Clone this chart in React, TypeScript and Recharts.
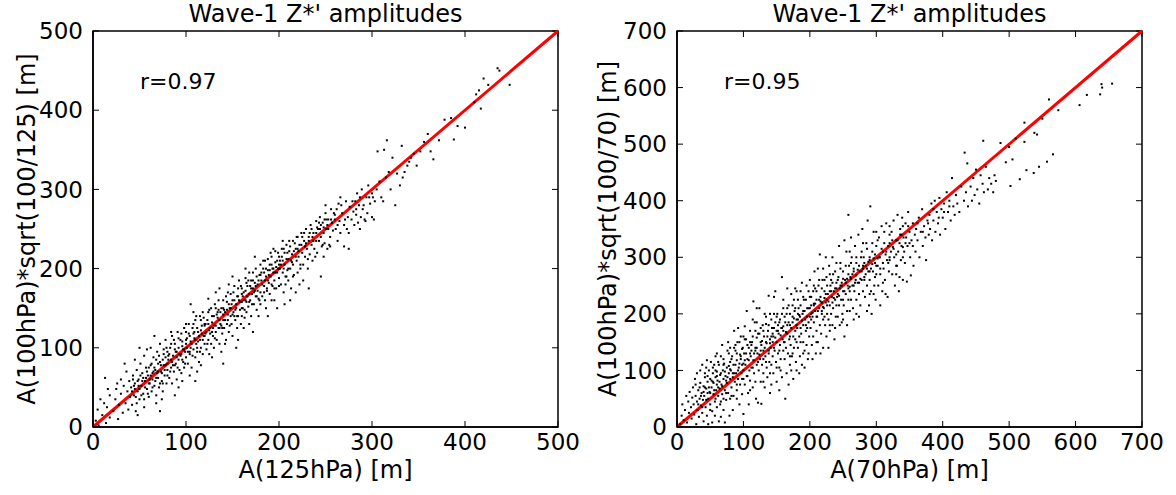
import { ReferenceArea, ReferenceLine, Scatter, ScatterChart, XAxis, YAxis } from "recharts";

const FONT = "'DejaVu Sans', sans-serif";

// left panel: A(125hPa) vs A(100hPa)*sqrt(100/125)
const LEFT_POINTS: [number, number][] = [
  [3, 8], [5, 22], [8, 35], [10, 15], [12, 30], [14, 5], [15, 25], [18, 12], [18, 40], [6, 2], [16, 48], [13, 62],
  [22, 20], [24, 35], [25, 48], [27, 10], [28, 28], [30, 42], [30, 60], [32, 18], [33, 52], [35, 30], [36, 70], [37, 45], [38, 22], [39, 58], [40, 38], [34, 80], [26, 55],
  [41, 50], [42, 28], [43, 65], [44, 40], [45, 55], [46, 20], [47, 72], [48, 45], [49, 60], [50, 35], [51, 80], [52, 52], [53, 68], [54, 42], [55, 90], [55, 25], [56, 58], [57, 75], [58, 48], [59, 65], [60, 38], [45, 85], [50, 100], [58, 98], [48, 15],
  [61, 55], [62, 78], [63, 45], [64, 68], [65, 88], [66, 52], [67, 72], [68, 40], [69, 95], [70, 62], [70, 80], [71, 50], [72, 105], [73, 70], [74, 58], [75, 85], [75, 45], [76, 92], [77, 65], [78, 78], [78, 110], [79, 55], [80, 72], [80, 95], [62, 100], [68, 30], [74, 35], [66, 115], [72, 20],
  [81, 85], [82, 62], [83, 100], [84, 75], [85, 115], [85, 55], [86, 90], [87, 70], [88, 105], [89, 80], [90, 95], [90, 60], [91, 120], [92, 85], [93, 72], [94, 110], [95, 92], [95, 68], [96, 102], [97, 82], [98, 125], [98, 75], [99, 95], [100, 88], [100, 110], [84, 120], [92, 50], [96, 58], [88, 40], [100, 130],
  [101, 100], [102, 80], [103, 118], [104, 92], [105, 108], [105, 155], [106, 75], [107, 125], [108, 98], [109, 112], [110, 88], [110, 135], [111, 105], [112, 95], [113, 120], [114, 82], [115, 110], [115, 140], [116, 100], [117, 128], [118, 92], [119, 115], [120, 105], [120, 130], [104, 65], [112, 70], [118, 145], [110, 58], [108, 145], [116, 78],
  [121, 118], [122, 98], [123, 135], [124, 110], [125, 148], [125, 92], [126, 125], [127, 105], [128, 140], [129, 115], [130, 128], [130, 100], [131, 155], [132, 120], [133, 110], [134, 138], [135, 125], [135, 160], [136, 105], [137, 145], [138, 128], [139, 118], [140, 135], [140, 80], [124, 162], [132, 170], [128, 88], [138, 95], [136, 175], [140, 150],
  [141, 125], [142, 145], [143, 110], [144, 158], [145, 135], [145, 170], [146, 120], [147, 150], [148, 140], [149, 130], [150, 160], [150, 115], [151, 145], [152, 178], [153, 135], [154, 150], [155, 125], [155, 165], [156, 140], [157, 185], [158, 148], [159, 130], [160, 158], [160, 175], [142, 105], [150, 190], [156, 110], [146, 180], [154, 100], [160, 140],
  [161, 150], [162, 170], [163, 138], [164, 160], [165, 182], [165, 145], [166, 165], [167, 152], [168, 195], [169, 160], [170, 175], [170, 140], [171, 168], [172, 185], [173, 155], [174, 172], [175, 165], [175, 200], [176, 148], [177, 180], [178, 162], [179, 192], [180, 170], [180, 155], [162, 125], [168, 130], [174, 215], [178, 140], [164, 200], [172, 120],
  [181, 185], [182, 165], [183, 200], [184, 178], [185, 160], [185, 210], [186, 190], [187, 172], [188, 198], [189, 182], [190, 205], [190, 168], [191, 190], [192, 215], [193, 178], [194, 195], [195, 185], [195, 160], [196, 208], [197, 175], [198, 195], [199, 220], [200, 188], [200, 205], [186, 150], [194, 225], [198, 150], [188, 140], [192, 160],
  [201, 200], [202, 180], [203, 215], [204, 195], [205, 225], [205, 170], [206, 205], [207, 190], [208, 230], [209, 198], [210, 212], [210, 185], [211, 222], [212, 200], [213, 175], [214, 218], [215, 205], [215, 235], [216, 192], [218, 225], [219, 210], [220, 195], [220, 240], [206, 155], [212, 160], [218, 170], [222, 180],
  [221, 215], [222, 230], [223, 200], [224, 245], [225, 220], [226, 205], [227, 235], [228, 215], [229, 250], [230, 225], [231, 200], [232, 240], [233, 218], [234, 255], [235, 230], [236, 210], [237, 245], [238, 225], [240, 235], [240, 260], [226, 185], [232, 175],
  [241, 220], [242, 250], [243, 235], [244, 265], [245, 190], [245, 240], [246, 228], [247, 258], [248, 245], [249, 232], [250, 270], [251, 250], [252, 225], [253, 262], [255, 240], [256, 275], [258, 248], [260, 262], [248, 215], [254, 230], [250, 280],
  [261, 250], [262, 275], [263, 235], [264, 282], [265, 260], [266, 245], [268, 270], [270, 255], [270, 228], [272, 285], [274, 265], [275, 225], [276, 278], [278, 262], [280, 272], [266, 290], [273, 250],
  [281, 255], [282, 285], [283, 268], [284, 295], [285, 258], [286, 280], [288, 265], [289, 300], [290, 275], [292, 262], [294, 290], [295, 270], [296, 305], [298, 282], [300, 265], [300, 295], [287, 250], [293, 260],
  [302, 262], [303, 285], [305, 300], [306, 348], [308, 310], [310, 290], [312, 285], [313, 350], [315, 315], [318, 322], [320, 300], [322, 340], [325, 280], [327, 320], [330, 305], [332, 355], [333, 315], [335, 322], [338, 330], [340, 335], [316, 362], [301, 290],
  [342, 340], [345, 345], [348, 330], [352, 348], [356, 360], [360, 370], [363, 348], [366, 338], [372, 362], [378, 388], [385, 390], [388, 363], [392, 380], [400, 378], [410, 410], [412, 420], [415, 425], [417, 402], [420, 440], [425, 432], [435, 453], [437, 450], [448, 432],
];

// the dense core of the left cloud, close to the 1:1 line
const LEFT_CORE: [number, number][] = [
  [42, 45], [44, 52], [46, 38], [48, 58], [50, 48], [52, 40], [54, 62], [56, 50], [58, 70], [60, 55], [62, 65], [64, 50], [66, 75], [68, 62], [70, 70], [72, 82], [74, 68], [76, 78], [78, 88], [80, 80],
  [82, 92], [84, 85], [86, 78], [88, 98], [90, 88], [92, 100], [94, 90], [96, 108], [98, 98], [100, 105], [102, 95], [104, 115], [106, 105], [108, 118], [110, 110], [112, 125], [114, 115], [116, 122], [118, 110], [120, 128],
  [122, 120], [124, 130], [126, 118], [128, 132], [130, 140], [132, 128], [134, 145], [136, 135], [138, 150], [140, 142], [142, 135], [144, 148], [146, 155], [148, 150], [150, 142], [152, 160], [154, 155], [156, 165], [158, 158], [160, 168],
  [162, 160], [164, 172], [166, 178], [168, 168], [170, 185], [172, 175], [174, 182], [176, 190], [178, 185], [180, 192], [182, 180], [184, 195], [186, 200], [188, 185], [190, 198], [192, 205], [194, 200], [196, 195], [198, 210], [200, 215],
  [202, 205], [204, 210], [206, 220], [208, 212], [210, 200], [212, 228], [214, 208], [216, 222], [218, 215], [220, 225], [224, 230], [228, 228], [232, 235], [236, 240], [240, 245], [244, 250], [248, 252], [252, 255], [256, 262], [260, 268],
  [43, 60], [47, 30], [51, 65], [55, 35], [59, 42], [63, 80], [67, 58], [71, 90], [75, 55], [79, 100], [83, 70], [87, 110], [91, 75], [95, 118], [99, 80], [103, 130], [107, 90], [111, 140], [115, 95], [119, 138],
  [123, 105], [127, 150], [131, 112], [135, 148], [139, 125], [143, 165], [147, 128], [151, 170], [155, 140], [159, 178], [163, 148], [167, 185], [171, 155], [175, 178], [179, 160], [183, 210], [187, 175], [191, 220], [195, 175], [199, 200],
  [203, 225], [207, 180], [211, 235], [215, 190], [219, 240], [223, 205], [227, 245], [231, 212], [235, 250], [239, 215], [243, 258], [247, 230], [251, 262], [255, 228], [259, 270], [263, 255], [267, 280], [271, 262], [275, 245], [279, 285],
  [283, 275], [287, 290], [291, 280], [297, 290],
  [45, 48], [49, 52], [53, 58], [57, 62], [61, 60], [65, 70], [69, 68], [73, 78], [77, 72], [81, 90], [85, 82], [89, 95], [93, 92], [97, 98], [101, 112], [105, 100], [109, 120], [113, 108], [117, 118], [121, 130],
  [125, 122], [129, 125], [133, 142], [137, 130], [141, 148], [145, 142], [149, 155], [153, 148], [157, 160], [161, 165], [165, 158], [169, 178], [173, 170], [177, 172], [181, 195], [185, 185], [189, 192], [193, 200], [197, 202], [201, 210],
  [205, 200], [209, 220], [213, 210], [217, 232], [221, 222], [225, 240], [229, 232], [233, 245], [237, 235], [241, 252], [245, 255], [249, 262], [253, 250], [257, 258],
  [60, 75], [64, 60], [68, 85], [72, 55], [76, 98], [80, 65], [84, 105], [88, 78], [92, 112], [96, 85], [100, 120], [104, 95], [108, 130], [112, 100], [116, 135], [120, 115], [124, 145], [128, 120], [132, 150], [136, 125],
  [140, 160], [144, 130], [148, 168], [152, 140], [156, 175], [160, 150], [164, 188], [168, 158], [172, 195], [176, 165], [180, 205], [184, 170], [188, 212], [192, 180], [196, 222], [200, 178], [204, 235], [208, 190],
];

// right panel: A(70hPa) vs A(100hPa)*sqrt(100/70)
const RIGHT_POINTS: [number, number][] = [
  [5, 5], [7, 20], [8, 40], [10, 12], [12, 30], [14, 55], [15, 8], [17, 45], [18, 25], [19, 62], [20, 0],
  [21, 35], [22, 15], [23, 52], [24, 70], [25, 40], [26, 22], [27, 85], [28, 55], [29, 5], [30, 45], [30, 95], [31, 30], [32, 65], [33, 18], [34, 50], [35, 100], [35, 78], [36, 38], [37, 60], [38, 25], [38, 110], [39, 48], [40, 72], [40, 10], [28, 75],
  [41, 55], [42, 88], [43, 35], [44, 68], [45, 118], [45, 20], [46, 80], [47, 50], [48, 100], [49, 62], [50, 40], [50, 85], [51, 115], [52, 70], [53, 28], [54, 95], [55, 58], [55, 78], [56, 110], [57, 45], [58, 88], [58, 125], [59, 65], [60, 35], [60, 98], [47, 5], [53, 8], [44, 105], [57, 20], [60, 75],
  [61, 82], [62, 55], [63, 110], [64, 68], [65, 92], [65, 40], [66, 125], [67, 75], [68, 58], [69, 100], [70, 85], [70, 30], [71, 112], [72, 65], [73, 90], [74, 48], [75, 105], [75, 78], [76, 135], [77, 60], [78, 95], [79, 20], [80, 85], [80, 115], [63, 10], [68, 145], [72, 8], [77, 150], [66, 18], [80, 50],
  [81, 100], [82, 70], [83, 125], [84, 88], [85, 55], [85, 110], [86, 170], [87, 80], [88, 135], [89, 95], [90, 65], [90, 118], [91, 150], [92, 85], [93, 105], [94, 40], [95, 128], [95, 75], [96, 160], [97, 95], [98, 110], [98, 58], [99, 140], [100, 85], [100, 23], [84, 30], [92, 175], [88, 145], [96, 120], [100, 100],
  [101, 130], [102, 75], [103, 110], [104, 155], [105, 90], [105, 205], [106, 120], [107, 60], [108, 140], [109, 100], [110, 170], [110, 82], [111, 125], [112, 105], [113, 150], [114, 70], [115, 222], [115, 118], [116, 95], [117, 185], [118, 135], [119, 50], [120, 110], [120, 158], [102, 178], [108, 40], [114, 190], [118, 80], [120, 210], [112, 135],
  [121, 130], [122, 43], [123, 100], [124, 165], [125, 120], [126, 80], [127, 145], [127, 41], [128, 110], [129, 180], [130, 95], [130, 135], [131, 160], [132, 70], [133, 125], [134, 195], [135, 105], [135, 148], [136, 88], [137, 170], [138, 130], [139, 115], [140, 155], [140, 60], [124, 210], [132, 200], [138, 232], [126, 150], [134, 115], [140, 95],
  [141, 140], [142, 110], [143, 175], [144, 125], [145, 95], [145, 160], [146, 230], [147, 135], [148, 185], [149, 115], [150, 150], [150, 80], [151, 200], [152, 130], [153, 165], [154, 105], [155, 145], [155, 190], [156, 120], [157, 175], [158, 88], [159, 155], [160, 135], [160, 210], [142, 75], [148, 240], [154, 65], [158, 265], [146, 200], [152, 180], [156, 100], [160, 170], [144, 150],
  [161, 150], [162, 120], [163, 50], [163, 185], [164, 140], [165, 200], [165, 95], [166, 165], [167, 130], [168, 215], [169, 155], [170, 110], [170, 180], [171, 145], [172, 235], [173, 125], [174, 195], [175, 160], [175, 85], [176, 140], [177, 205], [178, 170], [179, 115], [180, 150], [180, 190], [166, 245], [172, 100], [176, 225], [168, 75], [174, 130], [178, 245], [180, 100],
  [181, 175], [182, 140], [183, 210], [184, 160], [185, 125], [185, 195], [186, 240], [187, 165], [188, 110], [189, 200], [190, 150], [190, 180], [191, 225], [192, 135], [193, 190], [194, 170], [195, 250], [195, 145], [196, 210], [197, 120], [198, 185], [199, 160], [200, 230], [200, 195], [184, 95], [188, 255], [192, 105], [198, 130], [196, 175], [182, 190], [186, 150],
  [201, 175], [202, 215], [203, 145], [204, 195], [205, 240], [205, 160], [206, 185], [207, 275], [208, 205], [209, 130], [210, 225], [210, 170], [211, 195], [212, 150], [213, 250], [214, 210], [215, 180], [215, 305], [216, 230], [217, 165], [218, 200], [219, 260], [220, 190], [220, 140], [204, 120], [208, 245], [212, 280], [216, 130], [218, 220], [202, 190], [206, 215],
  [221, 210], [222, 240], [223, 180], [224, 220], [225, 265], [225, 160], [226, 200], [227, 235], [228, 190], [229, 285], [230, 215], [230, 170], [231, 250], [232, 200], [233, 230], [234, 180], [235, 270], [235, 210], [236, 240], [237, 155], [238, 225], [239, 195], [240, 255], [240, 215], [224, 300], [228, 140], [234, 300], [238, 175], [226, 225], [232, 260], [222, 195],
  [241, 230], [242, 195], [243, 265], [244, 215], [245, 245], [245, 180], [246, 290], [247, 225], [248, 255], [249, 200], [250, 240], [250, 275], [251, 215], [252, 160], [253, 260], [254, 235], [255, 310], [256, 205], [257, 250], [258, 225], [259, 285], [260, 240], [260, 205], [244, 320], [252, 330], [258, 375], [248, 185], [256, 180],
  [261, 265], [262, 225], [263, 300], [264, 250], [265, 210], [266, 275], [267, 240], [268, 320], [269, 260], [270, 225], [270, 290], [272, 255], [273, 340], [274, 235], [275, 275], [276, 215], [277, 300], [278, 260], [279, 350], [280, 240], [280, 280], [266, 190], [274, 195], [262, 335],
  [281, 300], [282, 260], [283, 230], [284, 285], [285, 325], [286, 250], [287, 365], [288, 275], [289, 215], [290, 300], [290, 260], [291, 390], [292, 240], [293, 200], [294, 310], [295, 275], [296, 345], [297, 250], [298, 290], [299, 225], [300, 320], [300, 270], [286, 205], [296, 235],
  [302, 285], [303, 250], [304, 335], [305, 300], [306, 270], [308, 355], [309, 240], [310, 310], [311, 280], [312, 325], [313, 260], [315, 360], [316, 295], [317, 230], [318, 320], [319, 275], [320, 340], [320, 295], [306, 215], [314, 235],
  [322, 310], [323, 345], [324, 270], [326, 365], [327, 300], [328, 250], [330, 330], [331, 285], [332, 375], [333, 310], [335, 265], [336, 350], [337, 295], [338, 320], [339, 370], [340, 300], [334, 240], [340, 260],
  [341, 335], [343, 290], [344, 360], [346, 257], [347, 320], [348, 380], [350, 345], [351, 300], [353, 330], [355, 360], [356, 285], [358, 340], [359, 310], [360, 350], [352, 268],
  [362, 330], [364, 370], [365, 300], [367, 345], [369, 385], [370, 320], [372, 355], [374, 335], [375, 295], [377, 365], [379, 340], [380, 375],
  [381, 350], [383, 395], [384, 330], [386, 365], [388, 400], [389, 345], [391, 380], [393, 360], [395, 405], [396, 340], [398, 385], [400, 370],
  [402, 395], [404, 350], [406, 415], [408, 380], [410, 400], [412, 365], [414, 440], [416, 390], [418, 375], [420, 410], [422, 395], [425, 380], [428, 425], [432, 400], [433, 485], [437, 466], [435, 415], [438, 390],
  [442, 425], [444, 400], [446, 440], [448, 410], [450, 455], [452, 420], [455, 395], [457, 445], [460, 430], [461, 506], [462, 415], [465, 460], [468, 420], [470, 440], [473, 430], [476, 415], [478, 445], [480, 435],
  [487, 502], [495, 468], [500, 495], [502, 426], [505, 473], [510, 510], [516, 438], [523, 538], [523, 504], [526, 454], [537, 449], [538, 520], [542, 517], [545, 460], [550, 545], [557, 469], [560, 579], [566, 482], [574, 560], [606, 569], [617, 587], [637, 588], [639, 606], [640, 600], [655, 607],
];

// the dense core of the right cloud
const RIGHT_CORE: [number, number][] = [
  [32, 40], [36, 55], [40, 62], [44, 48], [48, 70], [52, 82], [56, 65], [60, 90], [64, 80], [68, 72], [72, 98], [76, 88], [80, 102], [84, 95], [88, 110], [92, 100], [96, 125], [100, 112], [104, 130], [108, 118],
  [112, 145], [116, 130], [120, 140], [124, 128], [128, 152], [132, 140], [136, 160], [140, 148], [144, 165], [148, 158], [152, 170], [156, 162], [160, 178], [164, 168], [168, 185], [172, 175], [176, 192], [180, 180], [184, 198], [188, 188],
  [192, 205], [196, 195], [200, 210], [204, 202], [208, 218], [212, 205], [216, 222], [220, 212], [224, 235], [228, 222], [232, 240], [236, 228], [240, 245], [244, 232], [248, 250], [252, 240], [256, 262], [260, 248], [264, 270], [268, 255],
  [272, 278], [276, 262], [280, 285], [284, 270], [288, 292], [292, 280], [296, 298], [300, 285], [305, 300], [310, 290], [315, 310], [320, 300], [325, 318], [330, 305], [335, 325], [340, 318], [345, 335], [350, 325],
  [34, 70], [38, 35], [42, 95], [46, 60], [50, 30], [54, 105], [58, 50], [62, 115], [66, 45], [70, 120], [74, 60], [78, 130], [82, 55], [86, 140], [90, 75], [94, 150], [98, 85], [102, 155], [106, 90], [110, 150],
  [114, 105], [118, 170], [122, 115], [126, 175], [130, 120], [134, 182], [138, 135], [142, 190], [146, 140], [150, 195], [154, 135], [158, 200], [162, 150], [166, 210], [170, 160], [174, 215], [178, 155], [182, 225], [186, 175], [190, 230],
  [194, 180], [198, 240], [202, 200], [206, 250], [210, 195], [214, 260], [218, 205], [222, 260], [226, 215], [230, 270], [234, 220], [238, 275], [242, 235], [246, 280], [250, 225], [254, 285], [258, 245], [262, 290], [266, 250], [270, 300],
  [274, 255], [278, 310], [282, 265], [286, 315], [290, 275], [294, 325], [298, 265], [302, 330], [306, 280], [312, 345], [318, 290], [324, 330], [330, 285], [336, 340], [342, 310], [348, 355], [355, 320], [362, 360], [370, 345], [378, 360],
  [386, 385], [394, 370], [402, 380], [410, 390],
  [42, 70], [46, 90], [50, 60], [54, 80], [58, 100], [62, 70], [66, 95], [70, 110], [74, 82], [78, 108], [82, 120], [86, 95], [90, 130], [94, 112], [98, 138], [102, 118], [106, 145], [110, 130], [114, 160], [118, 140],
  [122, 165], [126, 135], [130, 170], [134, 150], [138, 180], [142, 160], [146, 175], [150, 170], [154, 185], [158, 175], [162, 195], [166, 180], [170, 200], [174, 185], [178, 210], [182, 200], [186, 215], [190, 205], [194, 225], [198, 210],
  [202, 230], [206, 218], [210, 240], [214, 225], [218, 245], [222, 228], [226, 250], [230, 240], [234, 255], [238, 245], [242, 260], [246, 250], [250, 262], [254, 255], [258, 270], [262, 262], [266, 280], [270, 268], [274, 285], [278, 275],
  [282, 290], [286, 280], [290, 295], [294, 288], [298, 305], [302, 298], [308, 315], [314, 305], [320, 325], [326, 315], [332, 330], [338, 340], [344, 325],
  [60, 130], [70, 50], [80, 140], [90, 50], [100, 160], [110, 65], [120, 185], [130, 80], [140, 200], [150, 105], [160, 225], [170, 125], [180, 240], [190, 130], [200, 260], [210, 150], [220, 280], [230, 180], [240, 290], [250, 190],
  [260, 310], [270, 200], [280, 325], [290, 235], [300, 345], [310, 255], [320, 355], [330, 270], [340, 355],
];

const LEFT_TICKS = [0, 100, 200, 300, 400, 500];
const RIGHT_TICKS = [0, 100, 200, 300, 400, 500, 600, 700];

const TITLE = "Wave-1 Z*' amplitudes";

const tickStyle = { fontSize: 23, fontFamily: FONT, fill: "#000" };
const axisLine = { stroke: "#000", strokeWidth: 1.5 };
const tickLine = { stroke: "#000", strokeWidth: 1 };

function Dot(props: any) {
  const { cx, cy } = props;
  if (cx == null || cy == null) return null;
  return <rect x={cx - 1} y={cy - 1} width={2} height={2} fill="#000" />;
}

// tick marks on the top edge, drawn inward
function TopTick(props: any) {
  const { x1, y1, y2 } = props;
  const top = Math.min(y1, y2);
  return <line x1={x1} x2={x1} y1={top} y2={top + 6} stroke="#000" strokeWidth={1} />;
}

// tick marks on the right edge, drawn inward
function RightTick(props: any) {
  const { x1, x2, y1 } = props;
  const right = Math.max(x1, x2);
  return <line x1={right} x2={right - 6} y1={y1} y2={y1} stroke="#000" strokeWidth={1} />;
}

function Panel({
  left,
  points,
  core,
  ticks,
  max,
  xLabel,
  yLabel,
  yLabelX,
  r,
}: {
  left: number;
  points: [number, number][];
  core: [number, number][];
  ticks: number[];
  max: number;
  xLabel: string;
  yLabel: string;
  yLabelX: number;
  r: string;
}) {
  const data = [...points, ...core].map(([x, y]) => ({ x, y }));
  const width = 592;
  // plot area: x from left+93 to left+558, y from 31 to 427
  return (
    <div style={{ position: "absolute", left, top: 0, width, height: 495 }}>
      <ScatterChart width={width} height={495} margin={{ top: 31, right: 34, bottom: 38, left: 33 }}>
        <XAxis
          dataKey="x"
          type="number"
          domain={[0, max]}
          ticks={ticks}
          allowDataOverflow
          tickSize={-6}
          tickMargin={13}
          height={30}
          tick={tickStyle}
          axisLine={axisLine}
          tickLine={tickLine}
        />
        <YAxis
          dataKey="y"
          type="number"
          domain={[0, max]}
          ticks={ticks}
          allowDataOverflow
          tickSize={-6}
          tickMargin={16}
          width={60}
          tick={tickStyle}
          axisLine={axisLine}
          tickLine={tickLine}
        />
        <ReferenceArea x1={0} x2={max} y1={0} y2={max} fill="none" stroke="#000" strokeWidth={1.5} />
        {ticks.map((t) => (
          <ReferenceLine key={`tx${t}`} x={t} shape={TopTick} />
        ))}
        {ticks.map((t) => (
          <ReferenceLine key={`ty${t}`} y={t} shape={RightTick} />
        ))}
        <Scatter data={data} shape={Dot} isAnimationActive={false} />
        <ReferenceLine
          segment={[
            { x: 0, y: 0 },
            { x: max, y: max },
          ]}
          stroke="#ff0000"
          strokeWidth={3}
        />
      </ScatterChart>
      <div
        style={{
          position: "absolute",
          left: 93 - 50,
          width: 565,
          top: 1,
          textAlign: "center",
          fontFamily: FONT,
          fontSize: 24,
          lineHeight: "26px",
          whiteSpace: "nowrap",
        }}
      >
        {TITLE}
      </div>
      <div
        style={{
          position: "absolute",
          left: 140,
          top: 70,
          fontFamily: FONT,
          fontSize: 22,
          lineHeight: "24px",
        }}
      >
        {r}
      </div>
      <div
        style={{
          position: "absolute",
          left: 93,
          width: 465,
          top: 457,
          textAlign: "center",
          fontFamily: FONT,
          fontSize: 24,
          lineHeight: "26px",
        }}
      >
        {xLabel}
      </div>
      <div
        style={{
          position: "absolute",
          left: yLabelX - 250,
          top: 229 - 13,
          width: 500,
          height: 26,
          textAlign: "center",
          fontFamily: FONT,
          fontSize: 24,
          lineHeight: "26px",
          transform: "rotate(-90deg)",
          whiteSpace: "nowrap",
        }}
      >
        {yLabel}
      </div>
    </div>
  );
}

export default function App() {
  return (
    <div style={{ position: "absolute", left: 0, top: 0, width: 1176, height: 495, background: "#fff", overflow: "hidden" }}>
      <Panel
        left={0}
        points={LEFT_POINTS}
        core={LEFT_CORE}
        ticks={LEFT_TICKS}
        max={500}
        xLabel="A(125hPa) [m]"
        yLabel="A(100hPa)*sqrt(100/125) [m]"
        yLabelX={27}
        r="r=0.97"
      />
      <Panel
        left={584}
        points={RIGHT_POINTS}
        core={RIGHT_CORE}
        ticks={RIGHT_TICKS}
        max={700}
        xLabel="A(70hPa) [m]"
        yLabel="A(100hPa)*sqrt(100/70) [m]"
        yLabelX={24}
        r="r=0.95"
      />
    </div>
  );
}
